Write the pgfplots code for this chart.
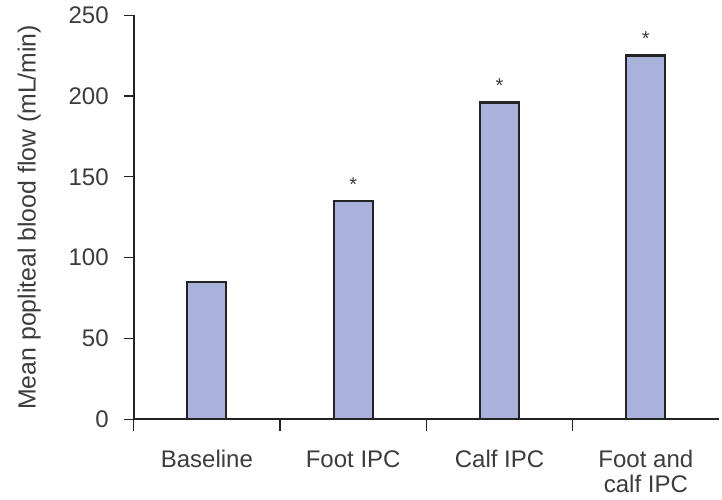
\documentclass[border={5.5pt 0pt 1pt 0pt}]{standalone}
\usepackage{pgfplots}
\pgfplotsset{compat=1.18}
\usepackage{pgfplotstable}
\usepackage{fontspec}
\setmainfont{Liberation Sans}
\definecolor{barfill}{RGB}{168,178,219}
\definecolor{txt}{RGB}{60,60,60}
\definecolor{axl}{RGB}{35,35,35}
\pgfplotstableread{
x y star
1 85 {}
2 135 *
3 196 *
4 225 *
}\flowdata
\begin{document}
\begin{tikzpicture}
\begin{axis}[
  scale only axis,
  width=292.5pt, height=202pt,
  xmin=0.5, xmax=4.5, ymin=0, ymax=250,
  axis x line=bottom, axis y line=left,
  axis line style={-, draw=axl, line width=1pt},
  ytick={0,50,...,250},
  xtick={1,2,3,4},
  xticklabels={Baseline,Foot IPC,Calf IPC,{Foot and\\calf IPC}},
  minor xtick={0.5,1.5,2.5,3.5},
  tick align=outside,
  major tick length=5pt,
  minor tick length=6pt,
  major x tick style={draw=none},
  minor x tick style={draw=axl, line width=0.6pt},
  major y tick style={draw=axl, line width=0.6pt},
  tick label style={font=\fontsize{12}{12.5}\selectfont, text=txt},
  x tick label style={align=center, anchor=north, yshift=-7pt},
  yticklabel style={xshift=-4pt},
  ylabel={Mean popliteal blood flow (mL/min)},
  ylabel style={font=\fontsize{12.4}{14}\selectfont, text=txt, yshift=7pt},
  /pgf/number format/assume math mode=true,
]
\addplot[ybar, bar width=19.5pt, fill=barfill, draw=axl, line width=1.1pt,
  point meta=explicit symbolic,
  nodes near coords={\pgfplotspointmeta},
  every node near coord/.append style={font=\fontsize{10}{12}\selectfont, text=txt, anchor=south, yshift=1pt}]
  table[x=x, y=y, meta=star] {\flowdata};
\end{axis}
\end{tikzpicture}
\end{document}
